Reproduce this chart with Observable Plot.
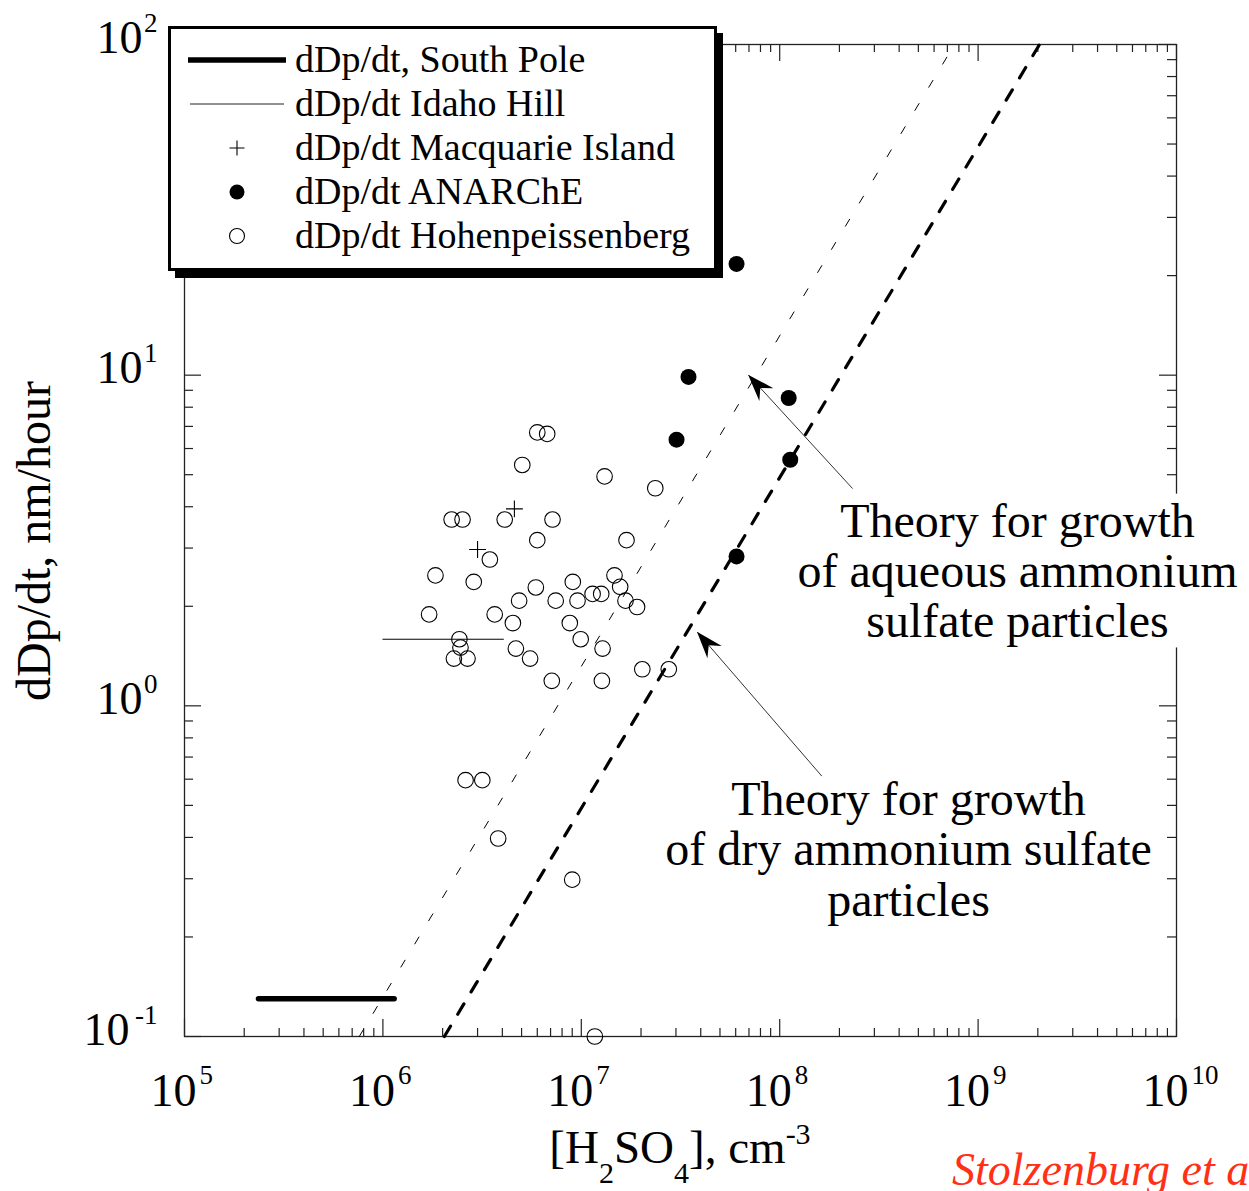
<!DOCTYPE html>
<html>
<head>
<meta charset="utf-8">
<script src="https://cdn.jsdelivr.net/npm/d3@7"></script>
<script src="https://cdn.jsdelivr.net/npm/@observablehq/plot@0.6"></script>
<style>
  html, body { margin: 0; padding: 0; background: #fff; overflow: hidden; }
</style>
</head>
<body>
<div id="chart"></div>
<script>
// ---------------- DATA ----------------
// Hohenpeissenberg (open circles)
const hohenH2SO4 = [6.0e6, 6.73e6, 5.04e6, 1.31e7, 2.36e7, 2.22e6, 2.52e6, 4.11e6, 7.16e6, 6.0e6,
  1.69e7, 3.46e6, 1.84e6, 2.87e6, 1.47e7, 5.90e6, 9.06e6, 1.57e7, 1.14e7, 1.26e7,
  4.86e6, 7.43e6, 9.57e6, 1.67e7, 1.91e7, 1.71e6, 3.66e6, 4.52e6, 8.75e6, 2.43e6,
  2.46e6, 2.28e6, 2.67e6, 4.68e6, 5.52e6, 9.93e6, 1.28e7, 7.10e6, 1.27e7, 2.03e7,
  2.76e7, 2.61e6, 3.17e6, 3.81e6, 9.0e6, 1.17e7];
const hohenDpdt = [6.71, 6.64, 5.35, 4.94, 4.55, 3.66, 3.66, 3.66, 3.66, 3.17,
  3.17, 2.77, 2.48, 2.37, 2.48, 2.28, 2.37, 2.29, 2.18, 2.18,
  2.08, 2.08, 2.08, 2.08, 1.99, 1.89, 1.89, 1.78, 1.78, 1.59,
  1.50, 1.39, 1.39, 1.49, 1.39, 1.59, 1.49, 1.19, 1.19, 1.29,
  1.29, 0.596, 0.596, 0.397, 0.298, 0.1];
// ANARChE (filled circles)
const anarcheH2SO4 = [6.06e7, 3.47e7, 3.02e7, 1.11e8, 1.13e8, 6.06e7];
const anarcheDpdt = [21.7, 9.88, 6.38, 8.53, 5.55, 2.83];
// Macquarie Island (plus)
const macqH2SO4 = [4.6e6, 3.0e6];
const macqDpdt = [3.94, 2.97];
// Idaho Hill (thin horizontal line)
const idahoH2SO4 = [1.0e6, 4.05e6];
const idahoDpdt = [1.59, 1.59];
// South Pole (thick horizontal line)
const southPoleH2SO4 = [2.36e5, 1.14e6];
const southPoleDpdt = [0.13, 0.13];
// Theory lines
const theoryAqH2SO4 = [7.6e5, 7.6e8];
const theoryAqDpdt = [0.1, 100];
const theoryDryH2SO4 = [2.04e6, 2.04e9];
const theoryDryDpdt = [0.1, 100];
// Annotations
const noteText = ["Theory for growth\nof aqueous ammonium\nsulfate particles",
                  "Theory for growth\nof dry ammonium sulfate\nparticles"];
const noteX = [1.58e9, 4.46e8];
const noteY = [1.61, 0.232];
const arrowTailX = [2.33e8, 1.63e8];
const arrowTailY = [4.54, 0.613];
const arrowTipX = [6.97e7, 3.85e7];
const arrowTipY = [10.0, 1.67];
// Legend
const seriesNames = ["dDp/dt, South Pole", "dDp/dt Idaho Hill", "dDp/dt Macquarie Island",
                     "dDp/dt ANARChE", "dDp/dt Hohenpeissenberg"];
// Ticks
const xMajor = [1e5, 1e6, 1e7, 1e8, 1e9, 1e10];
const xExp = ["5", "6", "7", "8", "9", "10"];
const yMajor = [0.1, 1, 10, 100];
const yExp = ["-1", "0", "1", "2"];
const xMinor = []; for (let e = 5; e < 10; e++) for (let k = 2; k < 10; k++) xMinor.push(k * 10 ** e);
const yMinor = []; for (let e = -1; e < 2; e++) for (let k = 2; k < 10; k++) yMinor.push(+(k * 10 ** e).toPrecision(3));

// ---------------- TABLES ----------------
const zip = (xs, ys) => xs.map((x, i) => ({x, y: ys[i]}));
const hohen = zip(hohenH2SO4, hohenDpdt);
const anarche = zip(anarcheH2SO4, anarcheDpdt);
const macq = zip(macqH2SO4, macqDpdt);
const idaho = zip(idahoH2SO4, idahoDpdt);
const southPole = zip(southPoleH2SO4, southPoleDpdt);
const theoryAq = zip(theoryAqH2SO4, theoryAqDpdt);
const theoryDry = zip(theoryDryH2SO4, theoryDryDpdt);
const notes = noteText.map((t, i) => ({t, x: noteX[i], y: noteY[i]}));
const arrows = arrowTailX.map((_, i) => ({x1: arrowTailX[i], y1: arrowTailY[i], x2: arrowTipX[i], y2: arrowTipY[i]}));

// ---------------- PLOT ----------------
const W = 1249, H = 1191, ML = 184, MR = 73, MT = 44, MB = 155;
const FW = W - ML - MR, FH = H - MT - MB;
const serif = "'Liberation Serif', 'Times New Roman', Times, serif";
const axisColor = "#222";
const I = d => d;

const plot = Plot.plot({
  width: W, height: H,
  marginLeft: ML, marginRight: MR, marginTop: MT, marginBottom: MB,
  x: {type: "log", domain: [1e5, 1e10], axis: null},
  y: {type: "log", domain: [0.1, 100], axis: null},
  style: {fontFamily: serif, background: "white", color: "black", overflow: "hidden"},
  marks: [
    Plot.frame({stroke: axisColor, strokeWidth: 1.3}),
    // inward ticks on all four sides
    Plot.tickX(xMinor, {x: I, insetTop: FH - 8, stroke: axisColor, strokeWidth: 1.2}),
    Plot.tickX(xMinor, {x: I, insetBottom: FH - 8, stroke: axisColor, strokeWidth: 1.2}),
    Plot.tickX(xMajor, {x: I, insetTop: FH - 17, stroke: axisColor, strokeWidth: 1.2}),
    Plot.tickX(xMajor, {x: I, insetBottom: FH - 17, stroke: axisColor, strokeWidth: 1.2}),
    Plot.tickY(yMinor, {y: I, insetRight: FW - 9, stroke: axisColor, strokeWidth: 1.2}),
    Plot.tickY(yMinor, {y: I, insetLeft: FW - 9, stroke: axisColor, strokeWidth: 1.2}),
    Plot.tickY(yMajor, {y: I, insetRight: FW - 17, stroke: axisColor, strokeWidth: 1.2}),
    Plot.tickY(yMajor, {y: I, insetLeft: FW - 17, stroke: axisColor, strokeWidth: 1.2}),
    // tick labels (10 with superscript exponent)
    Plot.text(xMajor, {x: I, frameAnchor: "bottom", text: () => "10", textAnchor: "end",
      lineAnchor: "bottom", dx: 12, dy: 69, fontSize: 46}),
    Plot.text(xMajor, {x: I, frameAnchor: "bottom", text: (d, i) => xExp[i], textAnchor: "start",
      lineAnchor: "bottom", dx: 15, dy: 47, fontSize: 27}),
    Plot.text(yMajor, {y: I, frameAnchor: "left", filter: (d, i) => yExp[i].length === 1,
      text: () => "10", textAnchor: "end", lineAnchor: "bottom", dx: -42, dy: 8, fontSize: 46}),
    Plot.text(yMajor, {y: I, frameAnchor: "left", filter: (d, i) => yExp[i].length > 1,
      text: () => "10", textAnchor: "end", lineAnchor: "bottom", dx: -55, dy: 8, fontSize: 46}),
    Plot.text(yMajor, {y: I, frameAnchor: "left", text: (d, i) => yExp[i], textAnchor: "end",
      lineAnchor: "bottom", dx: -27, dy: -13, fontSize: 27}),
    // theory lines
    Plot.line(theoryAq, {x: "x", y: "y", stroke: "black", strokeWidth: 1, strokeDasharray: "8,19"}),
    Plot.line(theoryDry, {x: "x", y: "y", stroke: "black", strokeWidth: 3.2, strokeDasharray: "12,14"}),
    // observations
    Plot.line(southPole, {x: "x", y: "y", stroke: "black", strokeWidth: 5.5}),
    Plot.line(idaho, {x: "x", y: "y", stroke: "black", strokeWidth: 1}),
    Plot.dot(hohen, {x: "x", y: "y", r: 7.8, stroke: "black", fill: "none", strokeWidth: 1.1}),
    Plot.dot(anarche, {x: "x", y: "y", r: 8, fill: "black", stroke: "none"}),
    Plot.dot(macq, {x: "x", y: "y", symbol: "plus", r: 5.5, stroke: "black", strokeWidth: 1.1}),
    // annotation arrows (shafts)
    Plot.link(arrows, {x1: "x1", y1: "y1", x2: "x2", y2: "y2", stroke: "#333", strokeWidth: 1}),
    // annotation texts
    Plot.text(notes, {x: "x", y: "y", text: "t", fontSize: 48, lineHeight: 1.05,
      lineAnchor: "bottom", textAnchor: "middle"})
  ]
});
document.getElementById("chart").append(plot);

// ---------------- POST DECORATION ----------------
const svg = d3.select(plot);
const sx = plot.scale("x"), sy = plot.scale("y");
const fx = d3.scaleLog().domain(sx.domain).range(sx.range);
const fy = d3.scaleLog().domain(sy.domain).range(sy.range);

// white background behind the aqueous note (it covers the right frame edge)
svg.selectAll("text").each(function () {
  if (this.textContent.includes("aqueous")) {
    const b = this.getBBox();
    const r = document.createElementNS("http://www.w3.org/2000/svg", "rect");
    r.setAttribute("x", b.x - 4); r.setAttribute("y", b.y);
    r.setAttribute("width", b.width + 8); r.setAttribute("height", b.height);
    r.setAttribute("fill", "white");
    const t = this.getAttribute("transform"); if (t) r.setAttribute("transform", t);
    this.parentNode.insertBefore(r, this);
  }
});

// filled arrowheads
arrows.forEach(a => {
  const x1 = fx(a.x1), y1 = fy(a.y1), x2 = fx(a.x2), y2 = fy(a.y2);
  const ang = Math.atan2(y2 - y1, x2 - x1) * 180 / Math.PI;
  svg.append("path")
    .attr("d", "M0,0L-27,-9.5L-18,0L-27,9.5Z")
    .attr("transform", `translate(${x2},${y2}) rotate(${ang})`)
    .attr("fill", "black");
});

// legend
const leg = svg.append("g").attr("font-family", serif).attr("font-size", 38)
  .attr("fill", "black").attr("text-anchor", "start");
leg.append("rect").attr("x", 175).attr("y", 33).attr("width", 548).attr("height", 245).attr("fill", "black");
leg.append("rect").attr("x", 169.5).attr("y", 27.5).attr("width", 546).attr("height", 242)
  .attr("fill", "white").attr("stroke", "black").attr("stroke-width", 3);
seriesNames.forEach((name, i) => {
  const base = 72 + 44 * i, cy = base - 12, cx = 237;
  if (i === 0) leg.append("line").attr("x1", 188).attr("x2", 286).attr("y1", cy).attr("y2", cy)
    .attr("stroke", "black").attr("stroke-width", 5.5);
  if (i === 1) leg.append("line").attr("x1", 190).attr("x2", 284).attr("y1", cy).attr("y2", cy)
    .attr("stroke", "#222").attr("stroke-width", 1);
  if (i === 2) leg.append("path").attr("d", `M${cx - 7.5},${cy}H${cx + 7.5}M${cx},${cy - 7.5}V${cy + 7.5}`)
    .attr("stroke", "black").attr("stroke-width", 1.1).attr("fill", "none");
  if (i === 3) leg.append("circle").attr("cx", cx).attr("cy", cy).attr("r", 7.5).attr("fill", "black");
  if (i === 4) leg.append("circle").attr("cx", cx).attr("cy", cy).attr("r", 7.5)
    .attr("fill", "white").attr("stroke", "black").attr("stroke-width", 1.1);
  leg.append("text").attr("x", 295).attr("y", base).attr("text-anchor", "start").text(name);
});

// y-axis title
svg.append("text")
  .attr("transform", "translate(50,541) rotate(-90)")
  .attr("text-anchor", "middle").attr("font-family", serif).attr("font-size", 48)
  .text("dDp/dt, nm/hour");

// x-axis title with sub/superscripts
const xt = svg.append("text").attr("x", 680).attr("y", 1163).attr("text-anchor", "middle")
  .attr("font-family", serif).attr("font-size", 47);
xt.append("tspan").text("[H");
xt.append("tspan").attr("dy", 20).attr("font-size", 30).text("2");
xt.append("tspan").attr("dy", -20).text("SO");
xt.append("tspan").attr("dy", 20).attr("font-size", 30).text("4");
xt.append("tspan").attr("dy", -20).text("], cm");
xt.append("tspan").attr("dy", -19).attr("font-size", 30).text("-3");

// citation (clipped at the right edge as in the source)
svg.append("text").attr("x", 952).attr("y", 1185).attr("text-anchor", "start")
  .attr("font-family", serif).attr("font-size", 46).attr("font-style", "italic")
  .attr("fill", "#ff3015").text("Stolzenburg et al.");
</script>
</body>
</html>
